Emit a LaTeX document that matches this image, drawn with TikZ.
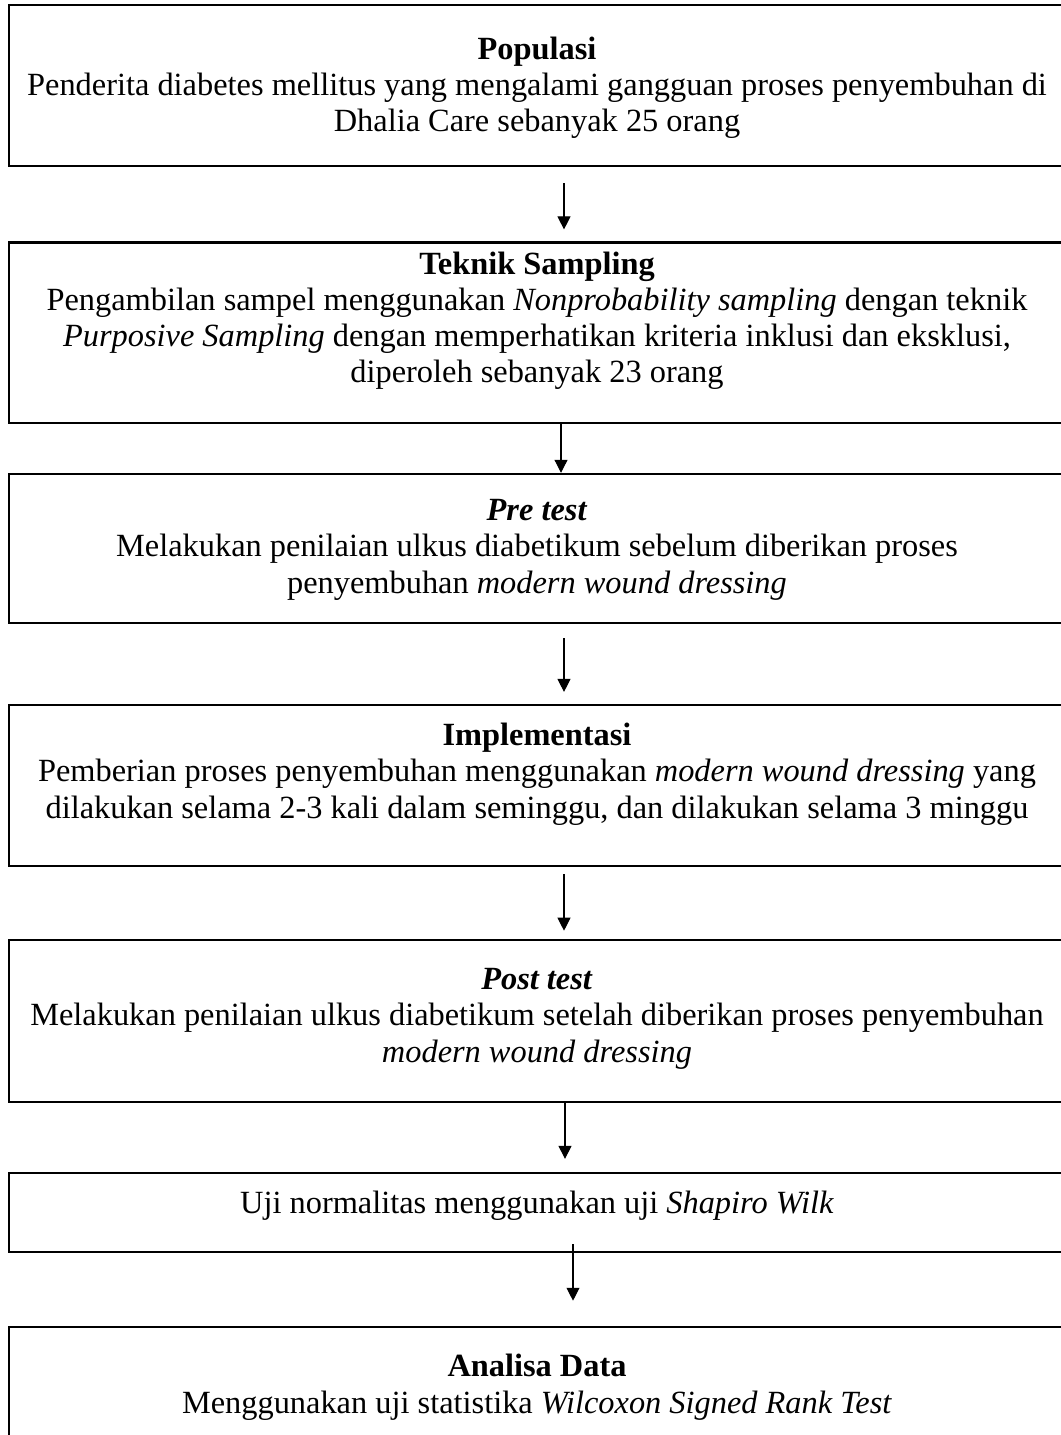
\documentclass[tikz,border=0pt]{standalone}
\usepackage{fontspec}
\setmainfont{Liberation Serif}
\usetikzlibrary{arrows.meta,fit,calc}
\begin{document}
\begin{tikzpicture}[x=0.3706pt,y=-0.3706pt,
  box/.style={draw, line width=0.9pt, inner sep=0pt},
  txt/.style={align=center, inner sep=0pt, anchor=base, font=\fontsize{12pt}{13.4pt}\selectfont},
  arr/.style={draw, line width=0.4pt, -{Triangle[length=4.8pt,width=4.8pt]}}]
\useasboundingbox[fill=white] (0,0) rectangle (1061,1435);
% boxes
\node[box, fit={(9,5) (1065,166)}] (b1) {};
\node[box, fit={(9,242.5) (1065,423)}] (b2) {};
\node[box, fit={(9,474) (1065,623)}] (b3) {};
\node[box, fit={(9,705) (1065,866)}] (b4) {};
\node[box, fit={(9,940) (1065,1102)}] (b5) {};
\node[box, fit={(9,1173) (1065,1252)}] (b6) {};
\node[box, fit={(9,1327) (1065,1460)}] (b7) {};
% texts (anchored at the baseline of the last line)
\node[txt] (t1) at (537,132) {\textbf{Populasi}\\Penderita diabetes mellitus yang mengalami gangguan proses penyembuhan di\\Dhalia Care sebanyak 25 orang};
\node[txt] (t2) at (537,383) {\textbf{Teknik Sampling}\\Pengambilan sampel menggunakan \textit{Nonprobability sampling} dengan teknik\\\textit{Purposive Sampling} dengan memperhatikan kriteria inklusi dan eksklusi,\\diperoleh sebanyak 23 orang};
\node[txt] (t3) at (537,593) {\textbf{\textit{Pre test}}\\Melakukan penilaian ulkus diabetikum sebelum diberikan proses\\penyembuhan \textit{modern wound dressing}};
\node[txt] (t4) at (537,818) {\textbf{Implementasi}\\Pemberian proses penyembuhan menggunakan \textit{modern wound dressing} yang\\dilakukan selama 2-3 kali dalam seminggu, dan dilakukan selama 3 minggu};
\node[txt] (t5) at (537,1062) {\textbf{\textit{Post test}}\\Melakukan penilaian ulkus diabetikum setelah diberikan proses penyembuhan\\\textit{modern wound dressing}};
\node[txt] (t6) at (537,1213) {Uji normalitas menggunakan uji \textit{Shapiro Wilk}};
\node[txt] (t7) at (537,1413) {\textbf{Analisa Data}\\Menggunakan uji statistika \textit{Wilcoxon Signed Rank Test}};
% arrows
\draw[arr, shorten <=5.9pt, shorten >=4.4pt] ($(b1.south)+(27,0)$) -- ($(b2.north)+(27,0)$);
\draw[arr] ($(b2.south)+(24,0)$) -- ($(b3.north)+(24,0)$);
\draw[arr, shorten <=5.2pt, shorten >=4.4pt] ($(b3.south)+(27,0)$) -- ($(b4.north)+(27,0)$);
\draw[arr, shorten <=2.6pt, shorten >=3pt] ($(b4.south)+(27,0)$) -- ($(b5.north)+(27,0)$);
\draw[arr, shorten >=4.8pt] ($(b5.south)+(28,0)$) -- ($(b6.north)+(28,0)$);
\draw[arr, shorten <=-3.3pt, shorten >=9.3pt] ($(b6.south)+(36,0)$) -- ($(b7.north)+(36,0)$);
\end{tikzpicture}
\end{document}
